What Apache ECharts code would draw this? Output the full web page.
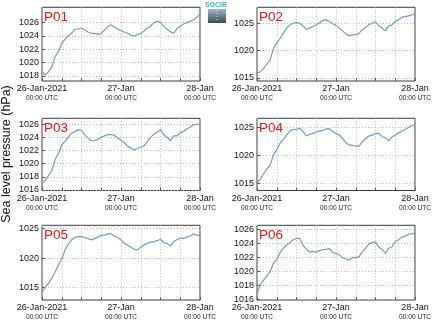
<!DOCTYPE html>
<html>
<head>
<meta charset="utf-8">
<script src="https://cdn.jsdelivr.net/npm/echarts@6/dist/echarts.min.js"></script>
<style>
  html, body { margin: 0; padding: 0; background: #fff; }
  #chart { width: 435px; height: 327px; }
</style>
</head>
<body>
<div id="chart"></div>
<script>
// Hours since 26-Jan-2021 00:00 UTC
const hours = Array.from({ length: 49 }, (_, i) => i);

const stationNames = ['P01', 'P02', 'P03', 'P04', 'P05', 'P06'];

// Hourly sea level pressure (hPa) per station
const p01 = [1018.65, 1018.15, 1018.65, 1019.4, 1020.9, 1021.65, 1022.9, 1023.5, 1024.05, 1024.4,
  1025.0, 1025.05, 1025.2, 1024.9, 1024.6, 1024.4, 1024.4, 1024.25, 1024.4, 1024.9,
  1025.4, 1025.7, 1025.3, 1025.05, 1024.8, 1024.6, 1024.4, 1024.1, 1024.0, 1024.2,
  1024.35, 1024.75, 1025.2, 1025.5, 1026.0, 1026.2, 1026.05, 1025.4, 1025.0, 1024.65,
  1024.4, 1025.15, 1025.4, 1025.8, 1026.0, 1026.2, 1026.4, 1026.8, 1027.3];
const p02 = [1015.85, 1016.15, 1016.75, 1017.55, 1018.3, 1020.4, 1021.35, 1022.25, 1023.15, 1024.1,
  1024.7, 1025.0, 1025.1, 1025.0, 1024.5, 1023.9, 1024.1, 1024.4, 1024.7, 1025.1,
  1025.5, 1025.6, 1025.3, 1024.9, 1024.6, 1024.1, 1023.6, 1023.05, 1022.7, 1022.85,
  1022.9, 1023.15, 1023.8, 1024.2, 1024.7, 1025.0, 1025.25, 1024.5, 1024.1, 1023.6,
  1024.5, 1024.7, 1025.3, 1025.6, 1026.1, 1026.2, 1026.35, 1026.5, 1026.7];
const p03 = [1017.0, 1017.45, 1018.2, 1019.0, 1020.65, 1021.55, 1022.85, 1023.4, 1024.05, 1024.65,
  1024.9, 1025.2, 1025.1, 1024.4, 1023.9, 1023.5, 1023.5, 1023.75, 1024.05, 1024.25,
  1024.45, 1024.45, 1024.35, 1023.9, 1023.6, 1023.2, 1022.7, 1022.35, 1022.1, 1022.35,
  1022.5, 1022.7, 1023.35, 1024.05, 1024.5, 1024.85, 1025.2, 1024.4, 1024.05, 1023.5,
  1024.25, 1024.25, 1024.75, 1024.9, 1025.3, 1025.55, 1025.95, 1026.0, 1026.0];
const p04 = [1015.1, 1015.8, 1016.75, 1017.6, 1018.3, 1020.1, 1021.0, 1022.2, 1022.9, 1023.65,
  1024.4, 1024.65, 1024.65, 1024.9, 1024.25, 1023.5, 1023.8, 1023.95, 1024.2, 1024.35,
  1024.5, 1024.75, 1024.8, 1024.25, 1023.95, 1023.65, 1023.05, 1022.3, 1021.9, 1021.8,
  1021.7, 1021.7, 1022.45, 1023.05, 1023.5, 1023.65, 1023.95, 1023.95, 1023.35, 1023.2,
  1022.65, 1023.35, 1023.65, 1024.05, 1024.35, 1024.65, 1025.0, 1025.35, 1025.45];
const p05 = [1014.3, 1015.05, 1015.75, 1016.6, 1017.7, 1018.85, 1019.8, 1021.4, 1022.4, 1023.1,
  1023.5, 1023.65, 1023.65, 1023.5, 1023.3, 1023.1, 1023.3, 1023.55, 1023.85, 1023.9,
  1024.1, 1024.1, 1023.75, 1023.5, 1023.1, 1022.5, 1022.2, 1021.85, 1021.5, 1021.4,
  1021.85, 1022.25, 1022.5, 1022.7, 1022.8, 1022.95, 1023.2, 1022.6, 1022.5, 1022.05,
  1022.8, 1023.1, 1023.4, 1023.35, 1023.55, 1023.75, 1024.1, 1023.9, 1023.85];
const p06 = [1016.85, 1018.05, 1018.75, 1019.35, 1019.95, 1021.15, 1021.7, 1022.65, 1023.3, 1023.75,
  1024.1, 1024.5, 1024.7, 1024.7, 1023.75, 1023.15, 1022.75, 1022.85, 1022.75, 1022.95,
  1023.05, 1023.15, 1023.25, 1022.65, 1022.55, 1022.35, 1021.95, 1021.75, 1021.6, 1021.95,
  1021.95, 1022.1, 1022.8, 1023.3, 1023.9, 1024.1, 1024.15, 1023.45, 1023.15, 1022.55,
  1023.3, 1023.5, 1024.25, 1024.5, 1024.85, 1025.05, 1025.3, 1025.35, 1025.45];

const stationValues = [p01, p02, p03, p04, p05, p06];

// Pressure axis extent and tick values for each panel
const yMins = [1017.25, 1014.45, 1015.9, 1013.76, 1012.9, 1015.9];
const yMaxs = [1028.3, 1027.9, 1026.93, 1026.65, 1025.56, 1026.57];
const ticksEven = [1018, 1020, 1022, 1024, 1026];
const ticksFive = [1015, 1020, 1025];
const ticksP03 = [1016, 1018, 1020, 1022, 1024, 1026];
const yTicks = [ticksEven, ticksFive, ticksP03, ticksFive, ticksFive, ticksP03];

// Time axis labels at 0, 24 and 48 hours
const dayLabels = { 0: '26-Jan-2021', 24: '27-Jan', 48: '28-Jan' };
const timeLabel = '00:00 UTC';

const FONT = 'Liberation Sans, Arial, Helvetica, sans-serif';
const LINE_COLOR = '#6f9ac8';

const gridRects = [
  { left: 42, top: 7.3, width: 158, height: 73.7 },
  { left: 257, top: 7.3, width: 158, height: 73.7 },
  { left: 42, top: 118.3, width: 158, height: 72.2 },
  { left: 257, top: 118.3, width: 158, height: 72.2 },
  { left: 42, top: 225.3, width: 158, height: 74.7 },
  { left: 257, top: 225.3, width: 158, height: 74.7 }
];

const grids = gridRects.map(r => ({
  left: r.left, top: r.top, width: r.width, height: r.height,
  show: true, borderColor: '#3a3a3a', borderWidth: 1, backgroundColor: 'transparent',
  containLabel: false
}));

const xAxes = gridRects.map((r, i) => ({
  type: 'value', gridIndex: i, min: 0, max: 48, interval: 6,
  axisLine: { show: false },
  axisTick: { show: true, inside: true, length: 3, lineStyle: { color: '#555' } },
  splitLine: { show: true, lineStyle: { type: [1, 2], color: '#b8b8b8', width: 1 } },
  axisLabel: {
    show: true, margin: 3, fontFamily: FONT, showMinLabel: true, showMaxLabel: true,
    formatter: v => dayLabels[v] !== undefined ? '{d|' + dayLabels[v] + '}\n{t|' + timeLabel + '}' : '',
    rich: {
      d: { fontSize: 9, lineHeight: 10, color: '#111', fontFamily: FONT },
      t: { fontSize: 6.6, lineHeight: 9, color: '#222', fontFamily: FONT }
    }
  }
}));

const yAxes = gridRects.map((r, i) => ({
  type: 'value', gridIndex: i, min: yMins[i], max: yMaxs[i],
  axisLine: { show: false },
  axisTick: { show: true, inside: true, length: 3, lineStyle: { color: '#555' }, customValues: yTicks[i] },
  splitLine: { show: true, lineStyle: { type: [1, 2], color: '#b8b8b8', width: 1 } },
  axisLabel: {
    show: true, margin: 3, fontSize: 9, color: '#111', fontFamily: FONT,
    customValues: yTicks[i],
    formatter: v => String(Math.round(v))
  }
}));

const series = stationValues.map((vals, i) => ({
  type: 'line', xAxisIndex: i, yAxisIndex: i,
  data: hours.map((h, k) => [h, vals[k]]),
  showSymbol: false, smooth: false, silent: true,
  lineStyle: { color: LINE_COLOR, width: 1.2 },
  clip: true
}));

const titles = gridRects.map((r, i) => ({
  text: stationNames[i], left: r.left + 2, top: r.top + 2.5, padding: 0,
  textStyle: { color: '#ee1111', fontSize: 13.5, fontWeight: 'normal', fontFamily: FONT }
}));

const chart = echarts.init(document.getElementById('chart'), null, { renderer: 'canvas' });
chart.setOption({
  animation: false,
  backgroundColor: '#fff',
  title: titles,
  grid: grids,
  xAxis: xAxes,
  yAxis: yAxes,
  series: series,
  graphic: [
    {
      type: 'text', x: 7, y: 154, rotation: Math.PI / 2,
      style: {
        text: 'Sea level pressure (hPa)', fontSize: 12.5, fontFamily: FONT, fill: '#111',
        align: 'center', verticalAlign: 'middle'
      }
    },
    {
      type: 'text', x: 216, y: 5.5,
      style: {
        text: 'SOCIB', fontSize: 7, fontFamily: FONT, fill: '#37b6c8',
        align: 'center', verticalAlign: 'middle', fontWeight: 'bold'
      }
    },
    {
      type: 'rect', shape: { x: 208, y: 9, width: 18, height: 14 },
      style: {
        fill: new echarts.graphic.LinearGradient(0, 0, 0, 1, [
          { offset: 0, color: '#9fb3c0' },
          { offset: 1, color: '#3b4d5b' }
        ])
      }
    },
    {
      type: 'line', shape: { x1: 217, y1: 10, x2: 217, y2: 22 },
      style: { stroke: '#e8eef2', lineWidth: 1, lineDash: [1, 2] }
    }
  ]
});
</script>
</body>
</html>
